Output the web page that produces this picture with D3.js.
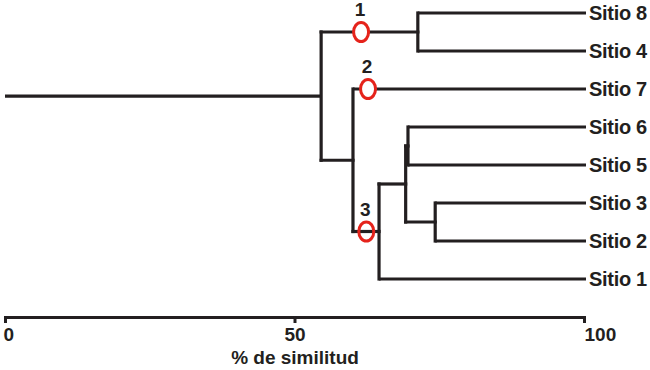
<!DOCTYPE html>
<html>
<head>
<meta charset="utf-8">
<script src="https://cdn.jsdelivr.net/npm/d3@7"></script>
<style>
  body { margin: 0; background: #fff; }
  text { font-family: "Liberation Sans", Arial, sans-serif; font-weight: bold; fill: #231f20; }
</style>
</head>
<body>
<div id="chart"></div>
<script>
// leaves, top to bottom
var leaves = ["Sitio 8", "Sitio 4", "Sitio 7", "Sitio 6", "Sitio 5", "Sitio 3", "Sitio 2", "Sitio 1"];

// joins: [id, child a, child b, % similarity]
var merges = [
  ["A", "Sitio 8", "Sitio 4", 71.3],
  ["B", "Sitio 3", "Sitio 2", 74.3],
  ["C", "Sitio 6", "Sitio 5", 69.6],
  ["D", "C", "B", 69.2],
  ["E", "D", "Sitio 1", 64.6],
  ["F", "Sitio 7", "E", 60.1],
  ["G", "A", "F", 54.6]
];

// numbered marks on branches
var markLabels = ["1", "2", "3"];
var markBranch = ["A", "Sitio 7", "E"];
var markSim = [61.5, 62.7, 62.4];

var ticks = [0, 50, 100];
var axisTitle = "% de similitud";

var width = 650, height = 370;
var ink = "#231f20", red = "#e5231b";

var svg = d3.select("#chart").append("svg")
    .attr("width", width)
    .attr("height", height);

var x = d3.scaleLinear().domain([0, 100]).range([5, 584]);
var y = d3.scalePoint().domain(leaves).range([13, 279]);

// node table, joins sit halfway between their two children
var nodes = {};
leaves.forEach(function(l) { nodes[l] = {id: l, sim: 100, y: y(l), leaf: true}; });
merges.forEach(function(m) {
  var a = nodes[m[1]], b = nodes[m[2]];
  var n = {id: m[0], sim: m[3], y: (a.y + b.y) / 2, kids: [a, b]};
  nodes[m[0]] = n;
});
var root = nodes[merges[merges.length - 1][0]];

var g = svg.append("g")
    .attr("stroke", ink)
    .attr("stroke-width", 3.2)
    .attr("stroke-linecap", "square")
    .attr("fill", "none");

// root stem
g.append("line")
    .attr("x1", x(0)).attr("x2", x(root.sim))
    .attr("y1", root.y).attr("y2", root.y)
    .attr("stroke-linecap", "butt");

merges.forEach(function(m) {
  var n = nodes[m[0]];
  g.append("line")
      .attr("x1", x(n.sim)).attr("x2", x(n.sim))
      .attr("y1", n.kids[0].y).attr("y2", n.kids[1].y);
  n.kids.forEach(function(k) {
    g.append("line")
        .attr("x1", x(n.sim))
        .attr("x2", k.leaf ? x(k.sim) + 2 : x(k.sim))
        .attr("y1", k.y).attr("y2", k.y)
        .attr("stroke-linecap", k.leaf ? "butt" : "square");
  });
});

// leaf labels
svg.selectAll(".leaf")
  .data(leaves)
  .enter().append("text")
    .attr("class", "leaf")
    .attr("x", x(100) + 5)
    .attr("y", function(d) { return y(d); })
    .attr("dy", "0.36em")
    .style("font-size", "20px")
    .style("letter-spacing", "-0.3px")
    .text(function(d) { return d; });

// numbered red marks
markLabels.forEach(function(lab, i) {
  var cx = x(markSim[i]), cy = nodes[markBranch[i]].y;
  svg.append("ellipse")
      .attr("cx", cx).attr("cy", cy)
      .attr("rx", 7.5).attr("ry", 9.5)
      .attr("fill", i < 2 ? "#fff" : "none")
      .attr("stroke", red)
      .attr("stroke-width", 3);
  svg.append("text")
      .attr("x", cx - 1).attr("y", cy - 16)
      .attr("text-anchor", "middle")
      .style("font-size", "19px")
      .text(lab);
});

// axis
var axis = svg.append("g")
    .attr("transform", "translate(0,317)")
    .call(d3.axisBottom(x).tickValues(ticks).tickSize(6).tickSizeOuter(0));
axis.attr("font-family", null).attr("font-size", null);
axis.select(".domain").attr("stroke", ink).attr("stroke-width", 3.2);
axis.selectAll(".tick line").attr("stroke", ink).attr("stroke-width", 3).attr("y1", -1);
axis.selectAll(".tick text")
    .attr("y", 11)
    .style("font-size", "19px")
    .attr("text-anchor", function(d) { return d === 50 ? "middle" : "start"; })
    .attr("dx", function(d) { return d === 0 ? -2 : 0; });

svg.append("text")
    .attr("x", 295).attr("y", 364)
    .attr("text-anchor", "middle")
    .style("font-size", "19px")
    .text(axisTitle);
</script>
</body>
</html>
